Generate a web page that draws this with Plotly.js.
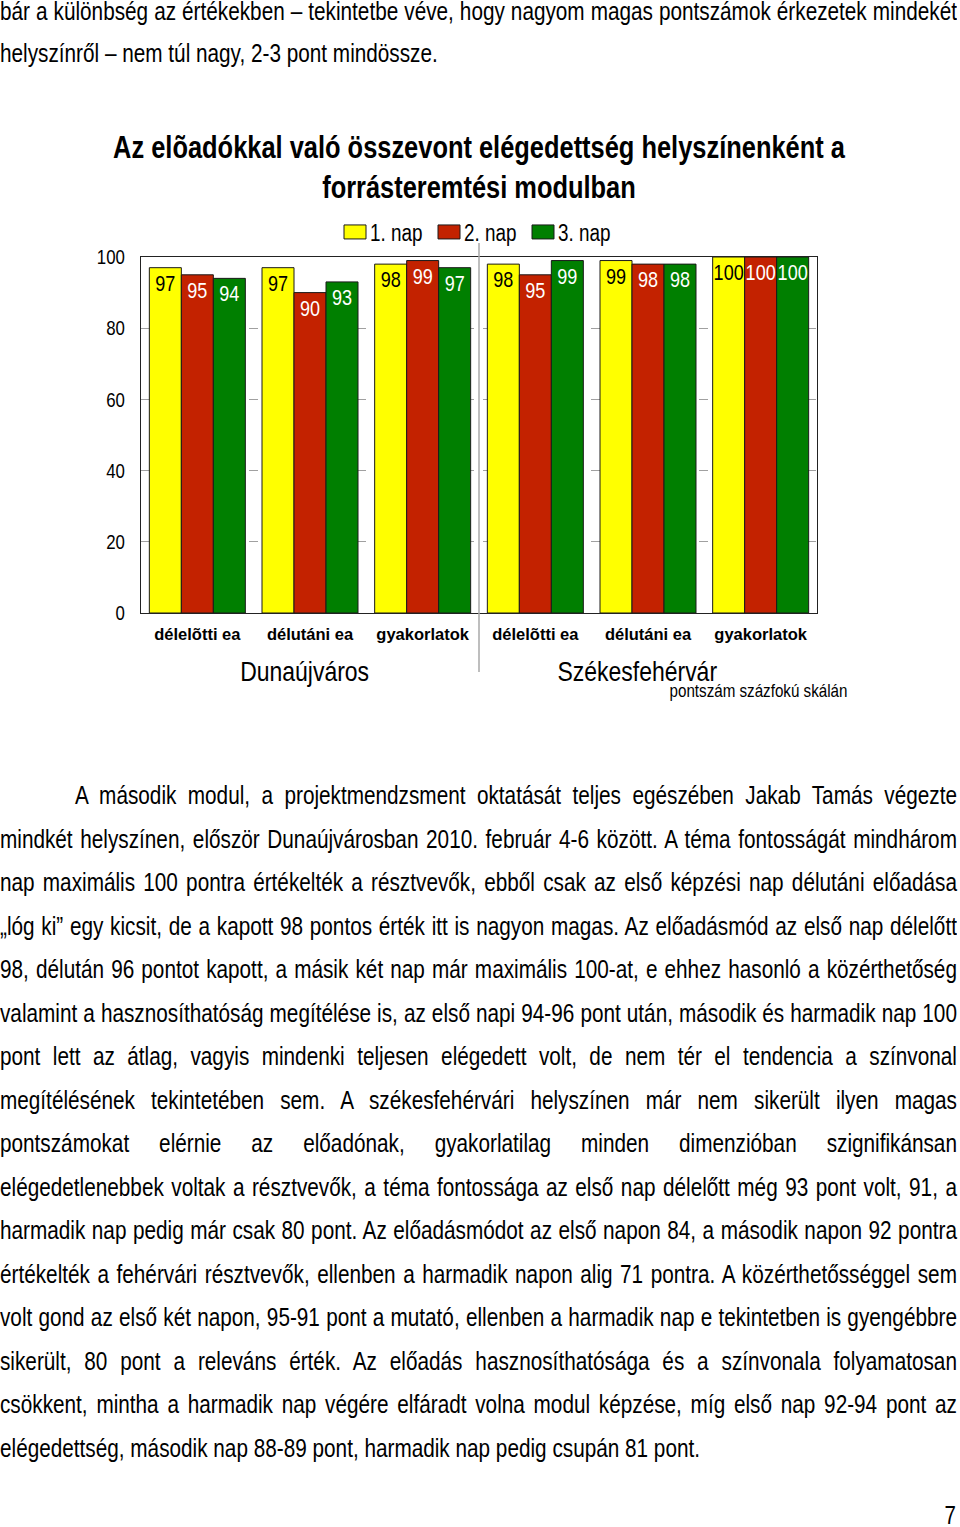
<!DOCTYPE html>
<html>
<head>
<meta charset="utf-8">
<script src="https://cdn.plot.ly/plotly-3.0.1.min.js"></script>
<style>
  html, body { margin:0; padding:0; background:#fff; }
  body { width:960px; height:1527px; position:relative; overflow:hidden;
         font-family:"Liberation Sans", Arial, sans-serif; color:#000; }
  #chart { position:absolute; left:0; top:0; width:960px; height:720px; }
  .txt { position:absolute; left:0; width:957px; font-size:25.3px; z-index:5; }
  .ln { white-space:nowrap; width:1167px; transform:scaleX(0.82); transform-origin:0 0; }
  .j { text-align:justify; text-align-last:justify; }
  #pg { position:absolute; right:4px; top:1500px; font-size:25px; line-height:30px;
        transform:scaleX(0.82); transform-origin:100% 0; }
</style>
</head>
<body>
<div id="chart"></div>
<div class="txt" id="top"></div>
<div class="txt" id="para"></div>
<div id="pg">7</div>
<script>
// ---- chart data ----
const categories = ['délelõtti ea','délutáni ea','gyakorlatok','délelõtti ea','délutáni ea','gyakorlatok'];
const locations = ['Dunaújváros','Székesfehérvár'];
const seriesNames = ['1. nap','2. nap','3. nap'];
const day1 = [97, 97, 98, 98, 99, 100];
const day2 = [95, 90, 99, 95, 98, 100];
const day3 = [94, 93, 97, 99, 98, 100];
const yTicks = [0, 20, 40, 60, 80, 100];

// ---- page text ----
const topLines = [
  'bár a különbség az értékekben – tekintetbe véve, hogy nagyom magas pontszámok érkezetek mindekét',
  'helyszínről – nem túl nagy, 2-3 pont mindössze.'
];
const paraLines = [
  'A második modul, a projektmendzsment oktatását teljes egészében Jakab Tamás végezte',
  'mindkét helyszínen, először Dunaújvárosban 2010. február 4-6 között. A téma fontosságát mindhárom',
  'nap maximális 100 pontra értékelték a résztvevők, ebből csak az első képzési nap délutáni előadása',
  '„lóg ki” egy kicsit, de a kapott 98 pontos érték itt is nagyon magas. Az előadásmód az első nap délelőtt',
  '98, délután 96 pontot kapott, a másik két nap már maximális 100-at, e ehhez  hasonló a közérthetőség',
  'valamint a hasznosíthatóság megítélése is, az első napi 94-96 pont után, második és harmadik nap 100',
  'pont lett az átlag, vagyis mindenki teljesen elégedett volt, de nem tér el tendencia a színvonal',
  'megítélésének tekintetében sem.  A székesfehérvári helyszínen már nem sikerült ilyen magas',
  'pontszámokat elérnie az előadónak, gyakorlatilag minden dimenzióban szignifikánsan',
  'elégedetlenebbek voltak a résztvevők, a téma fontossága az első nap délelőtt még 93 pont volt, 91, a',
  'harmadik nap pedig már csak 80 pont. Az előadásmódot az első napon 84, a második napon 92 pontra',
  'értékelték a fehérvári résztvevők, ellenben a harmadik napon alig 71 pontra. A közérthetősséggel sem',
  'volt gond az első két napon, 95-91 pont a mutató, ellenben a harmadik nap e tekintetben is gyengébbre',
  'sikerült, 80 pont a releváns érték. Az előadás hasznosíthatósága és a színvonala folyamatosan',
  'csökkent, mintha a harmadik nap végére elfáradt volna modul képzése, míg első nap 92-94 pont az',
  'elégedettség, második nap 88-89 pont, harmadik nap pedig csupán 81 pont.'
];

function fillLines(el, lines, lh, indentFirst) {
  lines.forEach((t, i) => {
    const d = document.createElement('div');
    d.className = 'ln' + (i === lines.length - 1 ? '' : ' j');
    d.style.height = lh + 'px';
    d.style.lineHeight = lh + 'px';
    if (i === 0 && indentFirst) d.style.paddingLeft = (indentFirst / 0.82) + 'px';
    d.style.boxSizing = 'border-box';
    d.textContent = t;
    el.appendChild(d);
  });
}
const topEl = document.getElementById('top');
topEl.style.top = '-10px';
fillLines(topEl, topLines, 42, 0);
const paraEl = document.getElementById('para');
paraEl.style.top = '774px';
fillLines(paraEl, paraLines, 43.53, 75);

// ---- chart ----
const FONT = 'Liberation Sans, Arial, sans-serif';
const xs = categories.map((c, i) => i);
const colors = ['#FFFF00', '#C32200', '#007F00'];
const textColors = ['#000000', '#FFFFFF', '#FFFFFF'];
const vals = [day1, day2, day3];
const traces = vals.map((v, k) => ({
  type: 'bar', x: xs, y: v, name: seriesNames[k],
  marker: { color: colors[k], line: { color: '#1a1a1a', width: 1 } },
  text: v.map(String), textposition: 'inside', insidetextanchor: 'end',
  textangle: 0, constraintext: 'none',
  textfont: { family: FONT, size: 22, color: textColors[k] },
  hoverinfo: 'skip'
}));

const L = 141, R = 817, T = 257, B = 613, H = 720;
const pw = R - L, ph = B - T;
const px = x => (x - L) / pw;
const py = y => (B - y) / ph;

const layout = {
  width: 960, height: H,
  margin: { l: L, r: 960 - R, t: T, b: H - B, pad: 0 },
  paper_bgcolor: 'rgba(0,0,0,0)', plot_bgcolor: '#fff',
  barmode: 'group', bargap: 0.148, bargroupgap: 0,
  title: { text: 'Az elõadókkal való összevont elégedettség helyszínenként a<br>forrásteremtési modulban',
           font: { family: FONT, size: 31, color: '#000', weight: 'bold' },
           x: 0.5, xref: 'paper', xanchor: 'center', y: 1 - 158 / H, yref: 'container', yanchor: 'middle' },
  showlegend: true,
  legend: { orientation: 'h', x: px(471), xanchor: 'center', y: py(232), yanchor: 'middle',
            font: { family: FONT, size: 23, color: '#000' }, itemwidth: 30,
            entrywidth: 49, entrywidthmode: 'pixels', bgcolor: 'rgba(0,0,0,0)' },
  xaxis: { range: [-0.5, 5.5], tickvals: xs, ticktext: categories, ticks: '',
           tickfont: { family: FONT, size: 16.5, color: '#000', weight: 'bold' },
           showline: true, linecolor: '#222', linewidth: 1, mirror: true, showgrid: false,
           zeroline: false, fixedrange: true, ticklabelstandoff: 6 },
  yaxis: { range: [0, 100], tickvals: yTicks, ticks: '',
           tickfont: { family: FONT, size: 20.5, color: '#000' },
           showline: true, linecolor: '#222', linewidth: 1, mirror: true,
           showgrid: true, gridcolor: '#a0a0a0', griddash: 'dash', gridwidth: 1,
           zeroline: false, fixedrange: true, ticklabelstandoff: 11 },
  shapes: [
    { type: 'line', xref: 'x', yref: 'paper', x0: 2.5, x1: 2.5, y0: py(672), y1: py(243),
      line: { color: '#a8a8a8', width: 1.5 } }
  ],
  annotations: [
    { text: locations[0], xref: 'paper', yref: 'paper', x: px(304), y: py(671), showarrow: false,
      xanchor: 'center', yanchor: 'middle', font: { family: FONT, size: 28, color: '#000' } },
    { text: locations[1], xref: 'paper', yref: 'paper', x: px(637), y: py(671), showarrow: false,
      xanchor: 'center', yanchor: 'middle', font: { family: FONT, size: 28, color: '#000' } },
    { text: 'pontszám százfokú skálán', xref: 'paper', yref: 'paper', x: px(758.5), y: py(690), showarrow: false,
      xanchor: 'center', yanchor: 'middle', font: { family: FONT, size: 18.5, color: '#000' } }
  ]
};

// condense text to mimic a narrow typeface (Arial Narrow look)
function narrow(el, f) {
  const lines = el.querySelectorAll('tspan.line');
  const targets = lines.length ? Array.from(lines) : [el];
  targets.forEach(t => {
    const len = t.getComputedTextLength();
    if (len > 0) {
      t.setAttribute('textLength', (len * f).toFixed(2));
      t.setAttribute('lengthAdjust', 'spacingAndGlyphs');
    }
  });
}

Plotly.newPlot('chart', traces, layout, { staticPlot: true, displayModeBar: false }).then(gd => {
  const sel = s => gd.querySelectorAll(s);
  sel('.gtitle').forEach(e => narrow(e, 0.82));
  sel('.ytick text').forEach(e => narrow(e, 0.82));
  sel('.legendtext').forEach(e => narrow(e, 0.82));
  sel('.bartext').forEach(e => narrow(e, 0.82));
  sel('.annotation-text').forEach(e => narrow(e, 0.82));
  // wider legend swatches like the reference, sitting closer to their labels
  sel('.legendpoints path').forEach(p => p.setAttribute('d', 'M16,7H-6V-7H16Z'));
});
</script>
</body>
</html>
